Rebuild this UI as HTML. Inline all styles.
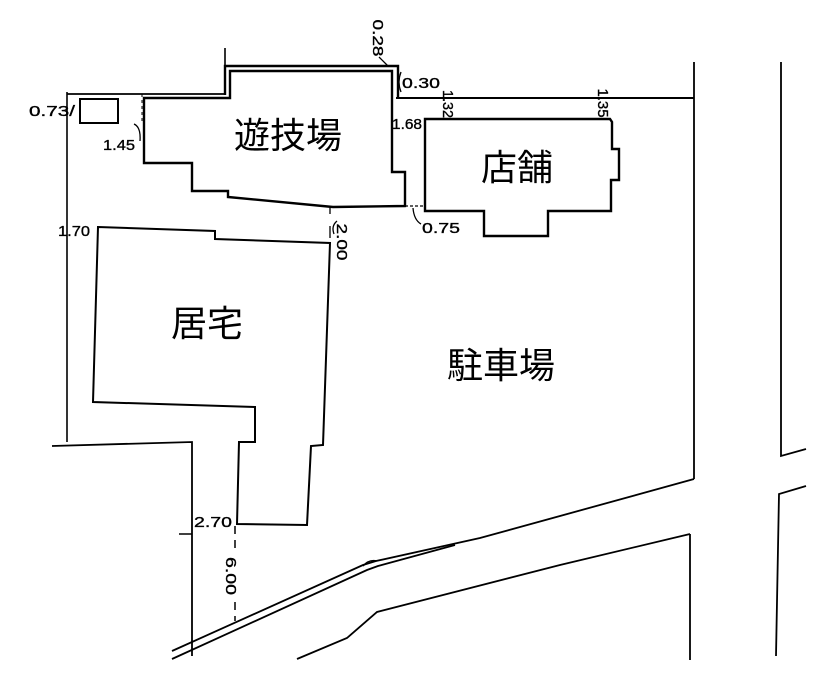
<!DOCTYPE html>
<html><head><meta charset="utf-8"><style>
html,body{margin:0;padding:0;background:#fff;}
svg{display:block;}
.n{font-family:"Liberation Sans","DejaVu Sans",sans-serif;font-size:15px;fill:#000;stroke:#000;stroke-width:0.35;}
.j{font-family:"Liberation Sans","Noto Sans CJK JP",sans-serif;font-size:36px;fill:#000;}
</style></head><body>
<svg width="829" height="680" viewBox="0 0 829 680" xmlns="http://www.w3.org/2000/svg">
<rect width="829" height="680" fill="#fff"/>
<g fill="none" stroke="#000" stroke-linejoin="miter">
  <!-- property lines -->
  <path d="M67,92 V442" stroke-width="1.6"/>
  <path d="M67,94 H226" stroke-width="1.8"/>
  <path d="M225,48 V95" stroke-width="1.6"/>
  <path d="M225,95 V66 H398 V97" stroke-width="2.4"/>
  <path d="M396,98 H694" stroke-width="2"/>
  <path d="M694,62 V479" stroke-width="1.8"/>
  <path d="M781,62 V456 L806,449" stroke-width="1.8"/>
  <path d="M806,486 L779,494 L776,656" stroke-width="1.8"/>
  <path d="M52,446 L192,442 V656" stroke-width="1.8"/>
  <path d="M179,534 H192" stroke-width="1.5"/>
  <!-- road -->
  <path d="M694,479 L560,516 L480,538 L376,561 L363,565 L172,651" stroke-width="1.8"/>
  <path d="M455,545 L378,566 L367,570 L172,659" stroke-width="1.8"/>
  <path d="M363,566 Q369,559 377,561" stroke-width="1.4"/>
  <path d="M690,534 L560,565 L377,612 L347,638 L297,659" stroke-width="1.8"/>
  <path d="M690,534 V660" stroke-width="1.8"/>
  <!-- buildings -->
  <path d="M405,206 L333,207 L228,197 L228,191 L192,191 L192,163 L144,163 L144,98 L230,98 L230,71 L392,71 L392,172 L405,172 Z" stroke-width="2.4"/>
  <rect x="80" y="99" width="38" height="24" stroke-width="2"/>
  <path d="M425,119 L610,119 L612,122 L612,149 L619,149 L619,180 L611,180 L611,211 L548,211 L548,236 L484,236 L484,211 L425,211 Z" stroke-width="2.4"/>
  <path d="M98,227 L215,231 L215,239 L330,243 L323,445 L311,446 L307,525 L237,524 L239,442 L255,442 L255,407 L93,402 Z" stroke-width="2"/>
  <!-- dimension marks -->
  <path d="M330,207 V214 M330,226 V238" stroke-width="1.3"/>
  <path d="M235,526 V548 M235,602 V621" stroke-width="1.5" stroke-dasharray="8,6"/>
  <path d="M405,206 H425" stroke-width="1.2" stroke-dasharray="3,2"/>
  <path d="M401,72 Q397,82 401,92" stroke-width="1.3"/>
  <path d="M134,124 Q141,127 140,141" stroke-width="1.3"/>
  <path d="M413,208 Q414,220 421,224" stroke-width="1.3"/>
  <path d="M337,221 Q331,226 334,234" stroke-width="1.3"/>
  <path d="M379,57 L388,66" stroke-width="1.3"/>
  <path d="M142,94 V124" stroke-width="1" stroke-dasharray="3,3"/>
</g>
<!-- labels -->
<text class="j" x="288" y="148" text-anchor="middle">遊技場</text>
<text class="j" x="517" y="180" text-anchor="middle">店舗</text>
<text class="j" x="207" y="336" text-anchor="middle">居宅</text>
<text class="j" x="501" y="378" text-anchor="middle">駐車場</text>

<text class="n" x="29" y="116" textLength="46" lengthAdjust="spacingAndGlyphs">0.73/</text>
<text class="n" x="103" y="150" textLength="32" lengthAdjust="spacingAndGlyphs">1.45</text>
<text class="n" x="58" y="236" textLength="32" lengthAdjust="spacingAndGlyphs">1.70</text>
<text class="n" x="402" y="88" textLength="38" lengthAdjust="spacingAndGlyphs">0.30</text>
<text class="n" x="392" y="129" textLength="30" lengthAdjust="spacingAndGlyphs">1.68</text>
<text class="n" x="422" y="233" textLength="38" lengthAdjust="spacingAndGlyphs">0.75</text>
<text class="n" x="194" y="527" textLength="38" lengthAdjust="spacingAndGlyphs">2.70</text>

<text class="n" transform="translate(378,38) rotate(90)" x="0" y="5" text-anchor="middle" textLength="37" lengthAdjust="spacingAndGlyphs">0.28</text>
<text class="n" transform="translate(448,104) rotate(90)" x="0" y="5" text-anchor="middle" textLength="28" lengthAdjust="spacingAndGlyphs">1.32</text>
<text class="n" transform="translate(603,103) rotate(90)" x="0" y="5" text-anchor="middle" textLength="29" lengthAdjust="spacingAndGlyphs">1.35</text>
<text class="n" transform="translate(342,242) rotate(90)" x="0" y="5" text-anchor="middle" textLength="37" lengthAdjust="spacingAndGlyphs">2.00</text>
<text class="n" transform="translate(231,576) rotate(90)" x="0" y="5" text-anchor="middle" textLength="38" lengthAdjust="spacingAndGlyphs">6.00</text>
</svg>
</body></html>
